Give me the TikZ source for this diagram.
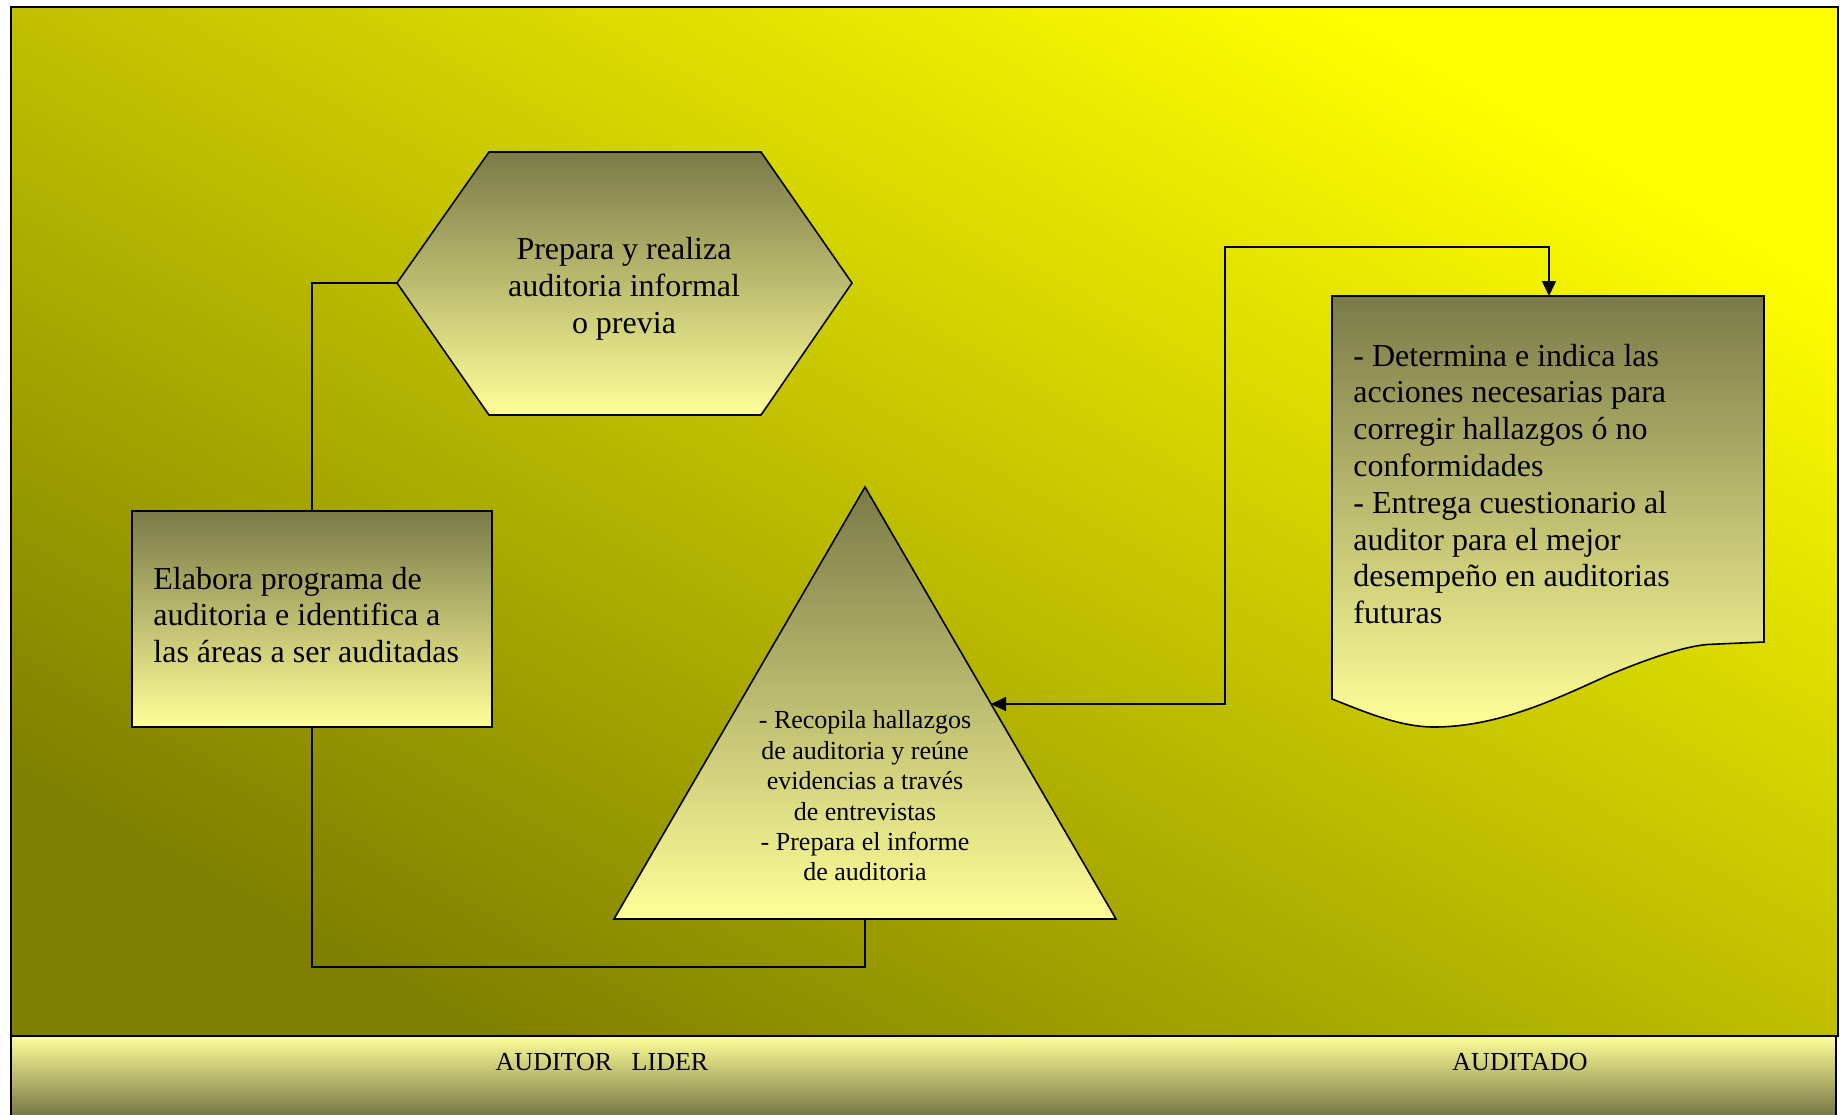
\documentclass[tikz,border=0pt]{standalone}
\usepackage{fontspec}
\setmainfont{Liberation Serif}
\usetikzlibrary{arrows.meta}

\definecolor{bgdark}{RGB}{128,128,0}
\definecolor{bglight}{RGB}{255,255,0}
\definecolor{shdark}{RGB}{122,122,72}
\definecolor{shlight}{RGB}{255,255,153}

\tikzset{
  shapebox/.style={draw=black, line width=0.8pt, top color=shdark, bottom color=shlight},
  link/.style={draw=black, line width=0.7pt},
  tip/.style={{Triangle[length=7.5pt,width=7pt]}-{Triangle[length=7.5pt,width=7pt]}},
  bigtext/.style={font=\fontsize{16}{18.4}\selectfont, inner sep=0pt},
  smalltext/.style={font=\fontsize{13}{15.2}\selectfont, inner sep=0pt},
}

\begin{document}
\begin{tikzpicture}[x=0.5pt,y=-0.5pt]
\useasboundingbox (0,0) rectangle (1842,1114);
\fill[white] (0,0) rectangle (1842,1114);

% swimlane background
\shade[shading=axis, top color=bglight, bottom color=bgdark, shading angle=-29]
  (11,7) rectangle (1838,1036);
\draw[line width=1.2pt] (11,7) rectangle (1838,1036);

% role band at the bottom
\shade[top color=shlight, bottom color=shdark] (11,1036) rectangle (1836,1114);
\draw[line width=1.2pt] (11,1120) -- (11,1036) -- (1836,1036) -- (1836,1120);
\node[smalltext] (lead) at (602,1062) {AUDITOR\ \ \ LIDER};
\node[smalltext] (audited) at (1520,1062) {AUDITADO};

% shapes
\shade[shapebox] (397,283) -- (489,152) -- (761,152) -- (852,283) -- (761,415) -- (489,415) -- cycle;
\shade[shapebox] (132,511) rectangle (492,727);
\shade[shapebox] (865,487) -- (1116,919) -- (614,919) -- cycle;
\shade[shapebox] (1332,296) -- (1764,296) -- (1764,642) -- (1707,644.5)
  .. controls (1680,647) and (1640,662) .. (1609,675)
  .. controls (1560,697) and (1500,727) .. (1434,727)
  .. controls (1400,727) and (1365,712) .. (1332,699) -- cycle;

% connection points on the shapes
\coordinate (hexW) at (397,283);
\coordinate (recN) at (312,511);
\coordinate (recS) at (312,727);
\coordinate (triB) at (865,919);
\coordinate (triE) at (991,704);
\coordinate (docN) at (1549,296);
\coordinate (jog) at (1225,247);

% connectors
\draw[link] (hexW) -| (recN);
\draw[link] (recS) -- ++(0,240) -| (triB);
\draw[link, tip] (triE) -| (jog) -| (docN);

% texts
\node[bigtext, align=center] (hexT) at (624,288.5)
  {Prepara y realiza\\auditoria informal\\o previa};
\node[bigtext, align=left, anchor=west] (recT) at (153,615)
  {Elabora programa de\\auditoria e identifica a\\las áreas a ser auditadas};
\node[smalltext, align=center] (triT) at (865,796)
  {- Recopila hallazgos\\de auditoria y reúne\\evidencias a través\\de entrevistas\\- Prepara el informe\\de auditoria};
\node[bigtext, align=left, anchor=west] (docT) at (1353,484)
  {- Determina e indica las\\acciones necesarias para\\corregir hallazgos ó no\\conformidades\\- Entrega cuestionario al\\auditor para el mejor\\desempeño en auditorias\\futuras};
\end{tikzpicture}
\end{document}
